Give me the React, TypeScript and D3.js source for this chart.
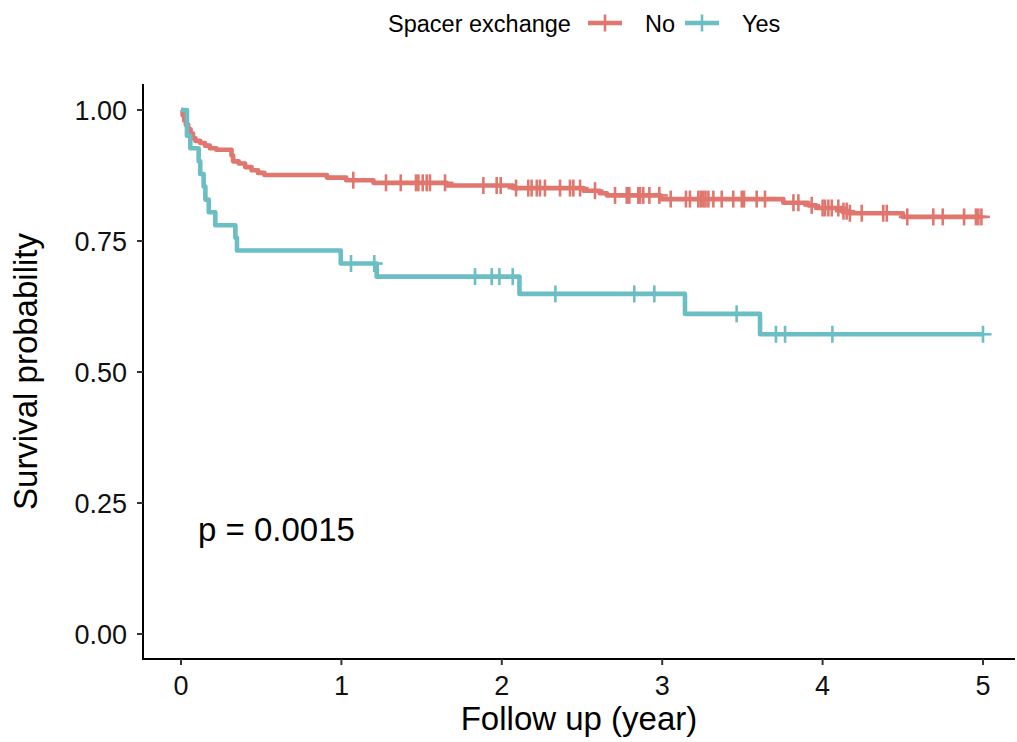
import React from "react";
import * as d3 from "d3";

// ---- data ----
const xTicks = [0, 1, 2, 3, 4, 5];
const yTicks = [0, 0.25, 0.5, 0.75, 1.0];
const yTickLabels = ["0.00", "0.25", "0.50", "0.75", "1.00"];

const groups = ["No", "Yes"];
const groupColors = ["#E0766D", "#6BBFC4"];

// "No" group: event times and survival after each step
const noTimes = [0, 0.01, 0.02, 0.03, 0.045, 0.06, 0.075, 0.09, 0.12, 0.15, 0.18, 0.22, 0.315, 0.325, 0.36, 0.40, 0.44, 0.48, 0.52, 0.91, 1.03, 1.20, 1.656, 2.07, 2.51, 2.61, 2.655, 2.99, 3.755, 3.91, 3.96, 4.12, 4.16, 4.50];
const noSurv = [1.0, 0.99, 0.98, 0.972, 0.963, 0.955, 0.946, 0.941, 0.937, 0.932, 0.927, 0.924, 0.913, 0.902, 0.898, 0.891, 0.885, 0.880, 0.876, 0.871, 0.866, 0.861, 0.856, 0.851, 0.846, 0.841, 0.837, 0.830, 0.823, 0.818, 0.813, 0.807, 0.803, 0.796];
const noCensor = [1.074, 1.278, 1.37, 1.465, 1.48, 1.507, 1.532, 1.552, 1.646, 1.885, 1.968, 1.993, 2.089, 2.165, 2.186, 2.218, 2.238, 2.269, 2.363, 2.425, 2.446, 2.488, 2.581, 2.706, 2.779, 2.795, 2.851, 2.862, 2.882, 2.92, 2.982, 3.053, 3.148, 3.173, 3.225, 3.24, 3.256, 3.27, 3.288, 3.319, 3.371, 3.443, 3.496, 3.51, 3.589, 3.641, 3.818, 3.849, 3.932, 4.0, 4.015, 4.036, 4.057, 4.098, 4.13, 4.15, 4.17, 4.244, 4.378, 4.4, 4.528, 4.69, 4.749, 4.882, 4.956, 4.971, 4.99];

// "Yes" group
const yesTimes = [0, 0.037, 0.058, 0.11, 0.12, 0.141, 0.152, 0.173, 0.214, 0.339, 0.349, 0.996, 1.22, 2.11, 3.142, 3.61];
const yesSurv = [1.0, 0.951, 0.927, 0.902, 0.878, 0.854, 0.829, 0.805, 0.780, 0.756, 0.732, 0.707, 0.682, 0.649, 0.611, 0.572];
const yesCensor = [1.06, 1.205, 1.833, 1.937, 1.985, 2.068, 2.334, 2.826, 2.951, 3.464, 3.709, 3.766, 4.061, 5.0];

const pValueText = "p = 0.0015";
const legendTitle = "Spacer exchange";
const xTitle = "Follow up (year)";
const yTitle = "Survival probability";

// ---- layout ----
const W = 1017;
const H = 742;
const FONT = "'Liberation Sans', Arial, Helvetica, sans-serif";

const x = d3.scaleLinear().domain([0, 5]).range([181, 983]);
const y = d3.scaleLinear().domain([0, 1]).range([634, 110]);
const panelLeft = 143;
const panelRight = 1015;
const panelTop = 84;
const panelBottom = 659;

function survAt(times: number[], surv: number[], t: number) {
  let s = surv[0];
  for (let i = 0; i < times.length; i++) {
    if (times[i] <= t) s = surv[i];
  }
  return s;
}

function buildPath(times: number[], surv: number[], censor: number[]) {
  const pts: [number, number][] = times.map((t, i) => [t, surv[i]]);
  const end = Math.max(times[times.length - 1], censor[censor.length - 1]);
  pts.push([end, surv[surv.length - 1]]);
  const line = d3
    .line<[number, number]>()
    .x((d) => x(d[0]))
    .y((d) => y(d[1]))
    .curve(d3.curveStepAfter);
  return line(pts) || "";
}

const series = [
  { name: groups[0], color: groupColors[0], times: noTimes, surv: noSurv, censor: noCensor },
  { name: groups[1], color: groupColors[1], times: yesTimes, surv: yesSurv, censor: yesCensor },
];

const CH = 8.5; // censor half-size

export default function App() {
  return (
    <svg width={W} height={H} style={{ display: "block", position: "absolute", left: 0, top: 0 }} fontFamily={FONT}>
      <rect x={0} y={0} width={W} height={H} fill="#fff" />
      {/* curves */}
      {series.map((s) => (
        <g key={s.name}>
          <path d={buildPath(s.times, s.surv, s.censor)} fill="none" stroke={s.color} strokeWidth={4.6} strokeLinejoin="round" />
          {s.censor.map((c, i) => {
            const cx = x(c);
            const cy = y(survAt(s.times, s.surv, c));
            return (
              <g key={i} stroke={s.color} strokeWidth={2.6}>
                <line x1={cx} x2={cx} y1={cy - CH} y2={cy + CH} />
                <line x1={cx - CH} x2={cx + CH} y1={cy} y2={cy} />
              </g>
            );
          })}
        </g>
      ))}

      {/* axes */}
      <line x1={panelLeft} x2={panelLeft} y1={panelTop} y2={panelBottom + 1} stroke="#000" strokeWidth={2} />
      <line x1={panelLeft - 1} x2={panelRight} y1={panelBottom} y2={panelBottom} stroke="#000" strokeWidth={2} />
      {yTicks.map((t, i) => (
        <g key={t}>
          <line x1={panelLeft - 6} x2={panelLeft} y1={y(t)} y2={y(t)} stroke="#333" strokeWidth={2} />
          <text x={127} y={y(t)} dy="0.36em" textAnchor="end" fontSize={27} fill="#111">
            {yTickLabels[i]}
          </text>
        </g>
      ))}
      {xTicks.map((t) => (
        <g key={t}>
          <line x1={x(t)} x2={x(t)} y1={panelBottom} y2={panelBottom + 6} stroke="#333" strokeWidth={2} />
          <text x={x(t)} y={695} textAnchor="middle" fontSize={27} fill="#111">
            {t}
          </text>
        </g>
      ))}
      <text x={(panelLeft + panelRight) / 2} y={730} textAnchor="middle" fontSize={33} fill="#000">
        {xTitle}
      </text>
      <text transform={`translate(37, ${(panelTop + panelBottom) / 2}) rotate(-90)`} textAnchor="middle" fontSize={33} fill="#000">
        {yTitle}
      </text>

      {/* p value */}
      <text x={198} y={541} fontSize={33} fill="#000">
        {pValueText}
      </text>

      {/* legend */}
      <text x={388} y={31.5} fontSize={23.5} fill="#000">
        {legendTitle}
      </text>
      {[
        { x0: 588, tx: 645 },
        { x0: 685, tx: 742 },
      ].map((l, i) => (
        <g key={i}>
          <line x1={l.x0} x2={l.x0 + 34} y1={23} y2={23} stroke={groupColors[i]} strokeWidth={4.6} />
          <line x1={l.x0 + 17} x2={l.x0 + 17} y1={14.5} y2={31.5} stroke={groupColors[i]} strokeWidth={2.6} />
          <text x={l.tx} y={31.5} fontSize={23.5} fill="#000">
            {groups[i]}
          </text>
        </g>
      ))}
    </svg>
  );
}
